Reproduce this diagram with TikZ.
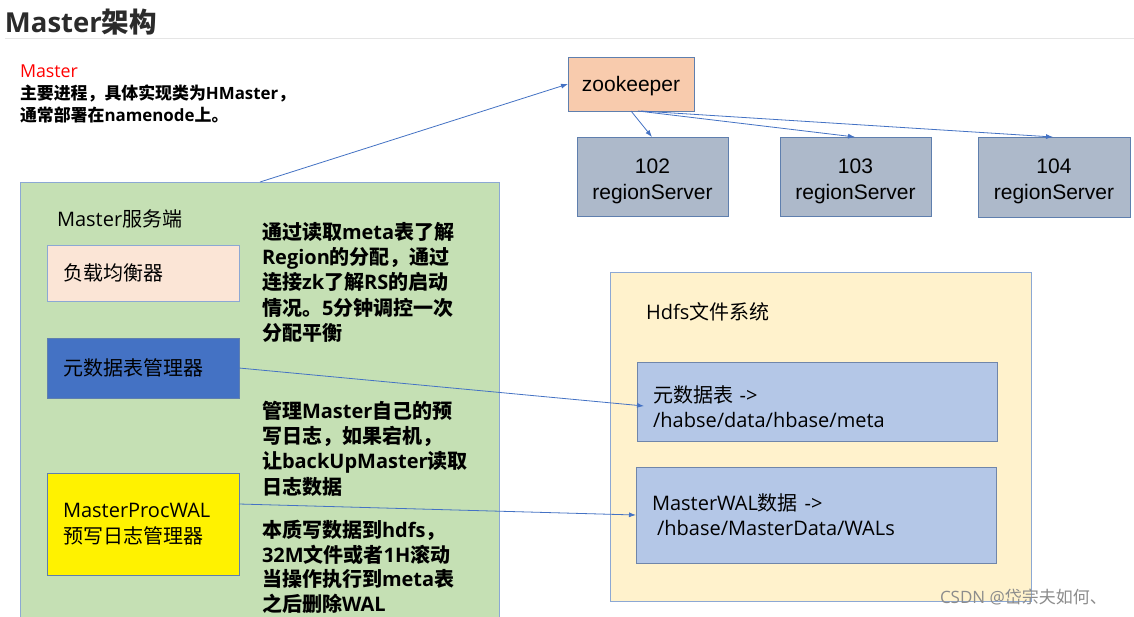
\documentclass[tikz,border=0pt]{standalone}
\usepackage{fontspec}
\setmainfont{Open Sans}
\newfontfamily\cjkfam{Noto Sans CJK SC}
\newfontfamily\arialfam{Liberation Sans}
\makeatletter
\newXeTeXintercharclass\mycjkclass
\count@="4E00
\loop\XeTeXcharclass\count@=\mycjkclass\ifnum\count@<"9FFF\advance\count@\@ne\repeat
\count@="3000
\loop\XeTeXcharclass\count@=\mycjkclass\ifnum\count@<"303F\advance\count@\@ne\repeat
\count@="FF00
\loop\XeTeXcharclass\count@=\mycjkclass\ifnum\count@<"FFEF\advance\count@\@ne\repeat
\count@="21
\loop\XeTeXcharclass\count@=0\ifnum\count@<"7E\advance\count@\@ne\repeat
\makeatother
\XeTeXinterchartoks 0 \mycjkclass={\cjkfam}
\XeTeXinterchartoks 4095 \mycjkclass={\cjkfam}
\XeTeXinterchartoks \mycjkclass 0={\rmfamily}
\XeTeXinterchartoks \mycjkclass 4095={\rmfamily}
\XeTeXinterchartokenstate=1
\usetikzlibrary{arrows.meta,calc}
\definecolor{zkfill}{HTML}{F8CBAD}
\definecolor{rsfill}{HTML}{ADB9CA}
\definecolor{grn}{HTML}{C5E0B4}
\definecolor{lbfill}{HTML}{FBE5D6}
\definecolor{metamg}{HTML}{4472C4}
\definecolor{hdfsfill}{HTML}{FFF2CC}
\definecolor{innerfill}{HTML}{B4C7E7}
\definecolor{edgedark}{HTML}{5F7FAE}
\definecolor{edgelight}{HTML}{8CA8D4}
\definecolor{arrowc}{HTML}{4472C4}
\definecolor{titlec}{HTML}{2B2B2B}
\begin{document}
\begin{tikzpicture}[x=1pt,y=-1pt,
  boxbase/.style={draw, line width=1pt, inner sep=0pt, outer sep=0pt, anchor=north west},
  leftbox/.style={boxbase, align=left, inner xsep=16pt},
  centerbox/.style={boxbase, align=center},
  txt/.style={inner sep=0pt, outer sep=0pt, align=left},
  arr/.style={draw=arrowc, line width=0.8pt, -{Latex[length=7pt,width=5pt]}},
  f20/.style={font=\fontsize{20}{25.3}\selectfont},
  f20b/.style={font=\bfseries\fontsize{20}{25.3}\selectfont},
  arialf/.style={font=\arialfam\fontsize{21}{26}\selectfont},
  rsbox/.style={centerbox, fill=rsfill, draw=edgedark, arialf, text height=50pt}
]
\useasboundingbox (0,0) rectangle (1134,616);
\fill[white] (0,0) rectangle (1134,616);
\begin{scope}
\clip (0,0) rectangle (1134,616);

% title
\node[txt, anchor=west, text=titlec, font=\bfseries\fontsize{27.5}{30}\selectfont] (title) at (5,22) {Master架构};
\draw[draw=black!10, line width=1pt] (5,38) -- (1134,38);

\node[txt, anchor=west, text=red, font=\fontsize{17.8}{22}\selectfont] (mred) at (20,71) {Master};
\node[txt, anchor=north west, font=\bfseries\fontsize{16.9}{22}\selectfont] (mdesc) at (20,85) {主要进程，具体实现类为HMaster，\\通常部署在namenode上。};

% zookeeper and region servers
\node[centerbox, fill=zkfill, draw=edgedark, minimum width=126pt, minimum height=54pt, arialf, text depth=0pt] (zk) at (568,57) {zookeeper};
\node[rsbox, minimum width=151pt, minimum height=79pt] (r102) at (577,137) {102\\regionServer};
\node[rsbox, minimum width=151pt, minimum height=79pt] (r103) at (780,137) {103\\regionServer};
\node[rsbox, minimum width=152pt, minimum height=80pt] (r104) at (978,137) {104\\regionServer};

% master server
\node[boxbase, fill=grn, draw=edgelight, minimum width=479pt, minimum height=460pt] (master) at (20,182) {};
\node[txt, anchor=west, f20] (mtitle) at (57,219) {Master服务端};
\node[leftbox, fill=lbfill, draw=edgelight, minimum width=192pt, minimum height=56pt, text width=160pt, f20] (lb) at (47,245) {负载均衡器};
\node[leftbox, fill=metamg, draw=edgedark, minimum width=192pt, minimum height=60pt, text width=160pt, f20] (metamgr) at (47,338) {元数据表管理器};
\node[leftbox, fill=yellow, draw=edgedark, minimum width=192pt, minimum height=102pt, text width=160pt, f20] (walmgr) at (47,473) {MasterProcWAL\\预写日志管理器};

\node[txt, anchor=north west, f20b] (d1) at (262,222) {通过读取meta表了解\\Region的分配，通过\\连接zk了解RS的启动\\情况。5分钟调控一次\\分配平衡};
\node[txt, anchor=north west, f20b] (d2) at (262,401) {管理Master自己的预\\写日志，如果宕机，\\让backUpMaster读取\\日志数据};
\node[txt, anchor=north west, font=\bfseries\fontsize{20}{24.8}\selectfont] (d3) at (262,520) {本质写数据到hdfs，\\32M文件或者1H滚动\\当操作执行到meta表\\之后删除WAL};

% hdfs
\node[boxbase, fill=hdfsfill, draw=edgelight, minimum width=421pt, minimum height=329pt] (hdfs) at (610,272) {};
\node[txt, anchor=west, f20] (htitle) at (646,312) {Hdfs文件系统};
\node[leftbox, fill=innerfill, draw=edgelight!80!black, minimum width=360pt, minimum height=79pt, text width=328pt, text height=27pt, f20] (meta) at (637,362) {元数据表 ->\\/habse/data/hbase/meta};
\node[leftbox, fill=innerfill, draw=edgelight!80!black, minimum width=360pt, minimum height=96pt, text width=328pt, f20] (wal) at (636,467) {MasterWAL数据 ->\\\hspace{5pt}/hbase/MasterData/WALs};

% watermark
\node[txt, anchor=west, text=black!45, font=\fontsize{17}{20}\selectfont] (wm) at (940,597) {CSDN @岱宗夫如何、};

% connectors
\draw[arr] ($(master.north west)+(240,0)$) -- (zk.west);
\draw[arr] ($(zk.south west)+(63,0)$) -- ($(r102.north west)+(75,0)$);
\draw[arr] ($(zk.south west)+(70,0)$) -- ($(r103.north west)+(75,0)$);
\draw[arr] ($(zk.south west)+(73,0)$) -- ($(r104.north west)+(75,0)$);
\draw[arr] (metamgr.east) -- ($(meta.west)+(7,4.5)$);
\draw[arr] ($(walmgr.north east)+(0,31)$) -- (wal.west);
\end{scope}
\end{tikzpicture}
\end{document}
